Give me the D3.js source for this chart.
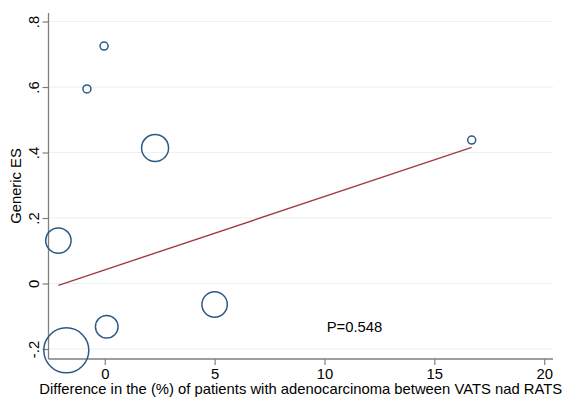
<!DOCTYPE html>
<html>
<head>
<meta charset="utf-8">
<script src="https://cdn.jsdelivr.net/npm/d3@7"></script>
<style>
  html, body { margin: 0; padding: 0; background: #fff; }
  svg { display: block; font-family: "Liberation Sans", Arial, sans-serif; }
</style>
</head>
<body>
<svg id="chart" width="564" height="399"></svg>
<script>
// Study-level values: difference in % adenocarcinoma (VATS vs RATS) and effect size
const diffPct  = [-0.03, -0.81, 2.29, 16.7, -2.11, 5.0, 0.09, -1.75];
const effect   = [0.725, 0.594, 0.414, 0.438, 0.131, -0.064, -0.132, -0.204];
const weights  = [16, 16, 182, 16, 161, 161, 128, 506];

// Meta-regression fit
const fitIntercept = 0.0416;
const fitSlope = 0.0224;
const pLabel = "P=0.548";

const xTicks = [0, 5, 10, 15, 20];
const yTicks = [-0.2, 0, 0.2, 0.4, 0.6, 0.8];
const yTickLabels = ["-.2", "0", ".2", ".4", ".6", ".8"];

const svg = d3.select("#chart");
const plotL = 48.5, plotR = 553, plotT = 13, plotB = 359;
const fs = 14.8;

const x = d3.scaleLinear().domain([-2.56, 20.4]).range([plotL, plotR]);
const y = d3.scaleLinear().domain([-0.2305, 0.826]).range([plotB, plotT]);
const r = d3.scaleSqrt().domain([0, 506]).range([0, 22.5]);

// horizontal gridlines
svg.append("g").selectAll("line").data(yTicks).join("line")
  .attr("x1", plotL).attr("x2", plotR)
  .attr("y1", d => y(d)).attr("y2", d => y(d))
  .attr("stroke", "#eaf0f3").attr("stroke-width", 1.2);

// y axis
const yAxis = svg.append("g").attr("transform", `translate(${plotL},0)`)
  .call(d3.axisLeft(y).tickValues(yTicks).tickSize(6).tickPadding(0)
    .tickFormat((d, i) => yTickLabels[i]));
yAxis.select(".domain").attr("stroke", "#7f7f7f").attr("stroke-width", 1.3)
  .attr("d", `M0,${plotT}V${plotB}`);
yAxis.selectAll(".tick line").attr("stroke", "#7f7f7f").attr("stroke-width", 1.2);
yAxis.selectAll(".tick text")
  .attr("x", 0).attr("dy", null)
  .attr("transform", "translate(-10,0) rotate(-90)")
  .attr("text-anchor", "middle")
  .attr("font-size", fs).attr("fill", "#000")
  .attr("font-family", "Liberation Sans, Arial, sans-serif");

// x axis
const xAxis = svg.append("g").attr("transform", `translate(0,${plotB})`)
  .call(d3.axisBottom(x).tickValues(xTicks).tickSize(6).tickPadding(3));
xAxis.select(".domain").attr("stroke", "#7f7f7f").attr("stroke-width", 1.3)
  .attr("d", `M${plotL},0H${plotR}`);
xAxis.selectAll(".tick line").attr("stroke", "#7f7f7f").attr("stroke-width", 1.2);
xAxis.selectAll(".tick text")
  .attr("font-size", fs).attr("fill", "#000")
  .attr("font-family", "Liberation Sans, Arial, sans-serif");

// axis titles
svg.append("text")
  .attr("x", (plotL + plotR) / 2).attr("y", 394)
  .attr("text-anchor", "middle").attr("font-size", fs).attr("fill", "#000")
  .text("Difference in the (%) of patients with adenocarcinoma between VATS nad RATS");

svg.append("text")
  .attr("transform", "translate(21,186) rotate(-90)")
  .attr("text-anchor", "middle").attr("font-size", fs).attr("fill", "#000")
  .text("Generic ES");

// weighted bubbles
const pts = diffPct.map((d, i) => ({ x: d, y: effect[i], w: weights[i] }));
svg.append("g").selectAll("circle").data(pts).join("circle")
  .attr("cx", d => x(d.x)).attr("cy", d => y(d.y)).attr("r", d => r(d.w))
  .attr("fill", "none").attr("stroke", "#2d5986").attr("stroke-width", 1.5);

// fitted line over the observed range
const xr = d3.extent(diffPct);
const line = d3.line().x(d => x(d)).y(d => y(fitIntercept + fitSlope * d));
svg.append("path").datum(xr).attr("d", line)
  .attr("fill", "none").attr("stroke", "#a33a45").attr("stroke-width", 1.4);

svg.append("text")
  .attr("x", x(10.1)).attr("y", 332)
  .attr("font-size", fs).attr("fill", "#000")
  .text(pLabel);
</script>
</body>
</html>
